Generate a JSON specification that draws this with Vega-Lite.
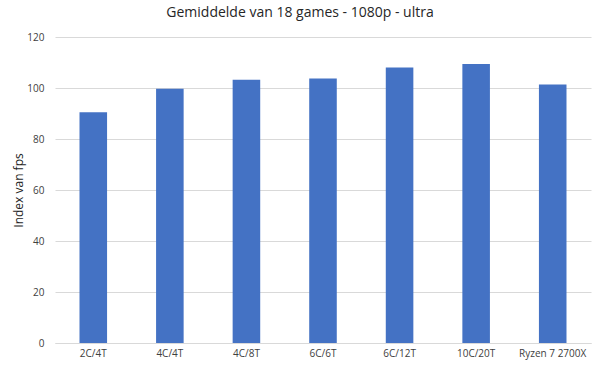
{
  "$schema": "https://vega.github.io/schema/vega-lite/v6.json",
  "width": 536,
  "height": 306,
  "autosize": {"type": "none"},
  "padding": {"left": 55, "top": 37, "right": 9, "bottom": 26},
  "background": "white",
  "title": {
    "text": "Gemiddelde van 18 games - 1080p - ultra",
    "fontSize": 14,
    "font": "Open Sans",
    "fontWeight": "normal",
    "color": "#262626",
    "offset": 12,
    "dx": -23
  },
  "data": {
    "values": [
      {"config": "2C/4T", "index": 90.5},
      {"config": "4C/4T", "index": 99.7},
      {"config": "4C/8T", "index": 103.2},
      {"config": "6C/6T", "index": 103.7},
      {"config": "6C/12T", "index": 108.0},
      {"config": "10C/20T", "index": 109.4},
      {"config": "Ryzen 7 2700X", "index": 101.4}
    ]
  },
  "mark": {"type": "bar", "color": "#4472C4"},
  "encoding": {
    "x": {
      "field": "config",
      "type": "nominal",
      "sort": null,
      "scale": {"paddingInner": 0.64, "paddingOuter": 0.32},
      "axis": {
        "title": null,
        "labelAngle": 0,
        "ticks": false,
        "domainColor": "#D9D9D9",
        "labelFont": "Open Sans",
        "labelFontSize": 10,
        "labelColor": "#404040",
        "labelPadding": 5
      }
    },
    "y": {
      "field": "index",
      "type": "quantitative",
      "scale": {"domain": [0, 120]},
      "axis": {
        "title": "Index van fps",
        "titleFont": "Open Sans",
        "titleFontSize": 12,
        "titleFontWeight": "normal",
        "titleColor": "#262626",
        "titlePadding": 1,
        "values": [0, 20, 40, 60, 80, 100, 120],
        "ticks": false,
        "domain": false,
        "gridColor": "#D9D9D9",
        "labelFont": "Open Sans",
        "labelFontSize": 10,
        "labelColor": "#404040",
        "labelPadding": 11
      }
    }
  },
  "config": {"view": {"stroke": null}}
}
